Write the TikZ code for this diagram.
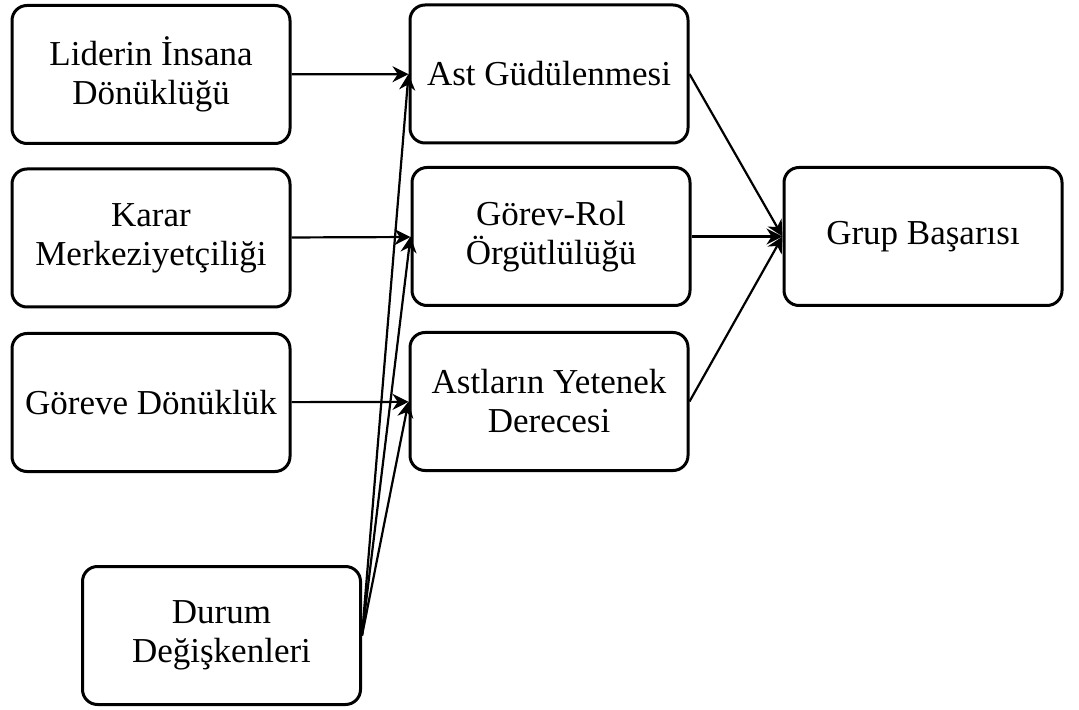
\documentclass[tikz,border=0pt]{standalone}
\usepackage{fontspec}
\setmainfont{Liberation Serif}
\usetikzlibrary{arrows.meta}
\tikzset{
  kutu/.style={draw,line width=1.5pt,rounded corners=7.5pt,minimum width=139pt,minimum height=69pt,align=center,font=\fontsize{17.5}{19.5}\selectfont},
  ok/.style={-{Stealth[length=8pt,width=8pt]},line width=1.1pt}
}
\begin{document}
\begin{tikzpicture}[x=0.5pt,y=-0.5pt,line join=round]
  \useasboundingbox (0,0) rectangle (1079,710);
  % sol sutun
  \node[kutu] (lider) at (151,74.5) {Liderin İnsana\\Dönüklüğü};
  \node[kutu] (karar) at (151,238) {Karar\\Merkeziyetçiliği};
  \node[kutu] (gorev) at (151,402.5) {Göreve Dönüklük};
  \node[kutu] (durum) at (221.5,635.5) {Durum\\Değişkenleri};
  % orta sutun
  \node[kutu] (ast) at (549,74) {Ast Güdülenmesi};
  \node[kutu] (rol) at (551,236.5) {Görev-Rol\\Örgütlülüğü};
  \node[kutu] (astlar) at (549,401.5) {Astların Yetenek\\Derecesi};
  % sag
  \node[kutu] (grup) at (923,236.5) {Grup Başarısı};
  % oklar
  \draw[ok] (lider) -- (ast);
  \draw[ok] (karar) -- (rol);
  \draw[ok] (gorev) -- (astlar);
  \foreach \hedef in {ast,rol,astlar}
    \draw[ok] (durum.east) -- (\hedef.west);
  \foreach \kaynak in {ast,rol,astlar}
    \draw[ok] (\kaynak.east) -- (grup.west);
\end{tikzpicture}
\end{document}
